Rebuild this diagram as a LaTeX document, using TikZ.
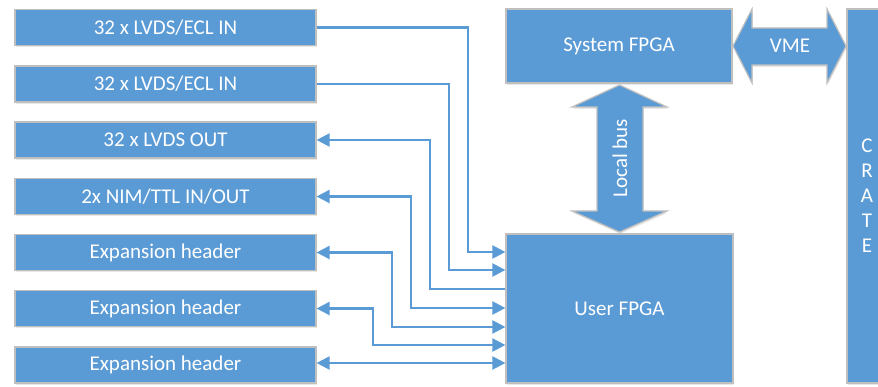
\documentclass[tikz,border=0pt]{standalone}
\usepackage{fontspec}
\setmainfont{Carlito}
\usetikzlibrary{arrows.meta,shadows}
\definecolor{boxblue}{HTML}{5B9BD5}
\definecolor{edgegray}{HTML}{BFBFBF}
\begin{document}
\begin{tikzpicture}[x=1pt,y=-1pt,
  label font/.style={font=\fontsize{21}{25}\selectfont},
  soft shadow/.style={drop shadow={shadow xshift=0.8pt,shadow yshift=-1.8pt,opacity=0.18}},
  blk/.style={draw=edgegray,line width=1.2pt,fill=boxblue,text=white,inner sep=0pt,label font,soft shadow},
  io/.style={blk,minimum width=301pt,minimum height=36pt},
  wire/.style={draw=boxblue,line width=2.2pt},
  bus/.style={draw=edgegray,line width=1.2pt,fill=boxblue,soft shadow},
  tag/.style={text=white,inner sep=0pt,label font},
  >={Triangle[length=13pt,width=13pt]}
]
\useasboundingbox (0,0) rectangle (878,387);

% I/O blocks on the left
\node[io] (in1)  at (165.5,27.5)  {32 x LVDS/ECL IN};
\node[io] (in2)  at (165.5,84)    {32 x LVDS/ECL IN};
\node[io] (out3) at (165.5,140)   {32 x LVDS OUT};
\node[io] (nim)  at (165.5,196.5) {2x NIM/TTL IN/OUT};
\node[io] (exp1) at (165.5,252.5) {Expansion header};
\node[io] (exp2) at (165.5,308.5) {Expansion header};
\node[io] (exp3) at (165.5,365)   {Expansion header};

% FPGAs and crate
\node[blk,minimum width=226pt,minimum height=74pt]  (sys)   at (619,46)    {System FPGA};
\node[blk,minimum width=227pt,minimum height=149pt] (user)  at (619.5,308.5) {User FPGA};
\node[blk,minimum width=40pt,minimum height=374pt,align=center] (crate) at (867,196) {C\\R\\A\\T\\E};

% block arrows: VME and local bus
\draw[bus] (733,46) -- (752,9) -- (752,28) -- (827,28) -- (827,9) -- (846,46)
  -- (827,83) -- (827,65) -- (752,65) -- (752,83) -- cycle;
\node[tag] (vme) at (790,46) {VME};
\draw[bus] (619.5,85) -- (667,107) -- (643,107) -- (643,211) -- (667,211) -- (619.5,232)
  -- (572,211) -- (597,211) -- (597,107) -- (572,107) -- cycle;
\node[tag,rotate=90] (lbus) at (620,158) {Local bus};

% entry points on the User FPGA and routing bends
\coordinate (e1) at (user.west |- 0,252);
\coordinate (e2) at (user.west |- 0,270);
\coordinate (e3) at (user.west |- 0,289);
\coordinate (e4) at (user.west |- 0,308);
\coordinate (e5) at (user.west |- 0,327);
\coordinate (e6) at (user.west |- 0,345);
\coordinate (e7) at (user.west |- 0,363);
\coordinate (v1) at (468,252);
\coordinate (v2) at (449,270);
\coordinate (v3) at (430,289);
\coordinate (v4) at (411,308);
\coordinate (v5) at (392,327);
\coordinate (v6) at (373,345);

% signal connectors
\draw[wire,->]  (in1.east)  -| (v1) -- (e1);
\draw[wire,->]  (in2.east)  -| (v2) -- (e2);
\draw[wire,<-]  (out3.east) -| (v3) -- (e3);
\draw[wire,<->] (nim.east)  -| (v4) -- (e4);
\draw[wire,<->] (exp1.east) -| (v5) -- (e5);
\draw[wire,<->] (exp2.east) -| (v6) -- (e6);
\draw[wire,<->] (exp3.east |- e7) -- (e7);
\end{tikzpicture}
\end{document}
